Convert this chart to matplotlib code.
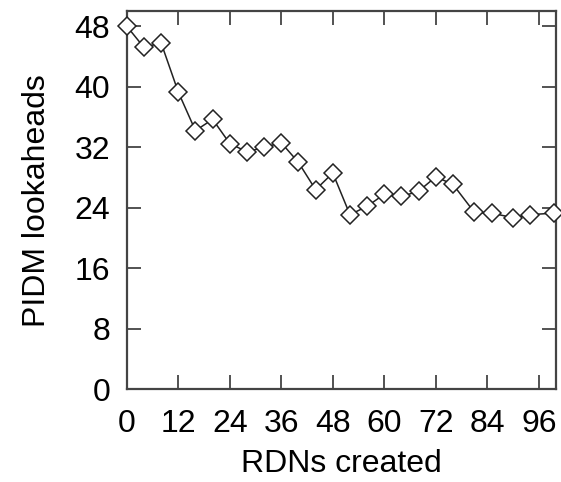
import numpy as np
import matplotlib
matplotlib.use("Agg")
import matplotlib.pyplot as plt

# values
rdns = [0, 4, 8, 12, 16, 20, 24, 28, 32, 36, 40, 44, 48, 52, 56, 60, 64, 68, 72, 76,
        81, 85, 90, 94, 99.5]
lookaheads = [48.0, 45.2, 45.8, 39.3, 34.2, 35.7, 32.5, 31.4, 32.0, 32.6, 30.0, 26.4, 28.6,
              23.1, 24.2, 25.8, 25.5, 26.2, 28.1, 27.1, 23.4, 23.3, 22.7, 23.1, 23.3]
xticks = [0, 12, 24, 36, 48, 60, 72, 84, 96]
yticks = [0, 8, 16, 24, 32, 40, 48]

plt.rcParams['font.family'] = ['Liberation Sans', 'DejaVu Sans']

fig = plt.figure(figsize=(5.61, 4.82), dpi=100)
ax = fig.add_axes([0.226, 0.192, 0.765, 0.785])

ax.plot(rdns, lookaheads, color='#222222', lw=1.1, marker='D', markersize=9,
        markerfacecolor='white', markeredgecolor='#222222', markeredgewidth=1.1,
        clip_on=False, zorder=5)

ax.set_xlim(0, 100)
ax.set_ylim(0, 50)
ax.set_xticks(xticks)
ax.set_yticks(yticks)
ax.tick_params(direction='in', length=10, width=1.3, color='#444444',
               top=True, right=True, labelsize=23)
ax.tick_params(axis='x', pad=14)
ax.tick_params(axis='y', pad=12)
for s in ax.spines.values():
    s.set_linewidth(1.6)
    s.set_color('#444444')

ax.set_xlabel('RDNs created', fontsize=23, labelpad=7)
ax.set_ylabel('PIDM lookaheads', fontsize=23, labelpad=16)

fig.savefig('out.png', dpi=100)
